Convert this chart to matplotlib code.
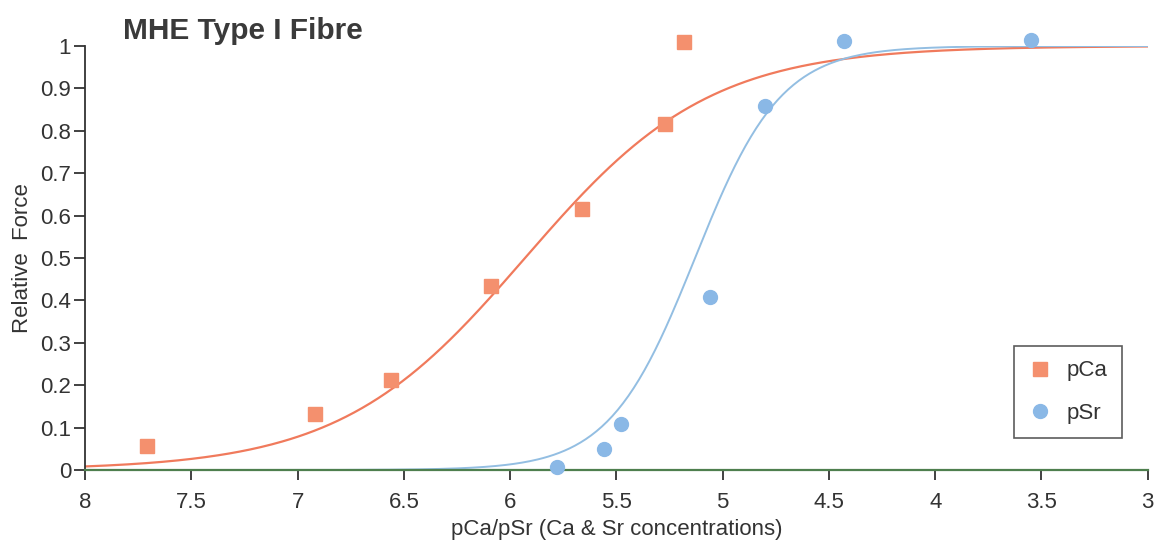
import numpy as np
import matplotlib
matplotlib.use("Agg")
import matplotlib.pyplot as plt

plt.rcParams['font.family'] = ['Liberation Sans', 'DejaVu Sans']

pca_x = [7.71, 6.92, 6.56, 6.09, 5.66, 5.27, 5.18]
pca_y = [0.057, 0.132, 0.212, 0.434, 0.616, 0.816, 1.01]

psr_x = [5.78, 5.56, 5.48, 5.06, 4.80, 4.43, 3.55]
psr_y = [0.007, 0.050, 0.108, 0.408, 0.858, 1.012, 1.014]

# Hill fit parameters (midpoint, Hill coefficient)
pca_fit = [5.93, 1.0]
psr_fit = [5.13, 2.15]

x_ticks = [8, 7.5, 7, 6.5, 6, 5.5, 5, 4.5, 4, 3.5, 3]
y_ticks = [0, 0.1, 0.2, 0.3, 0.4, 0.5, 0.6, 0.7, 0.8, 0.9, 1]

sq_col = '#F4906E'
ci_col = '#8AB8E6'
line_red = '#F07A5C'
line_blue = '#93BEE2'
axis_green = '#4E7F4E'


def hill(x, mid, n):
    return 1.0 / (1.0 + 10 ** (n * (x - mid)))


fig = plt.figure(figsize=(11.57, 5.43), dpi=100)
ax = fig.add_axes([0.0735, 0.1344, 0.9185, 0.7809])

xs = np.linspace(8, 3, 400)
ax.plot(xs, hill(xs, *pca_fit), color=line_red, lw=1.6, zorder=2)
ax.plot(xs, hill(xs, *psr_fit), color=line_blue, lw=1.4, zorder=2)

ax.plot(pca_x, pca_y, 's', color=sq_col, ms=10.5, mec=sq_col,
        label='pCa', clip_on=False, zorder=3)
ax.plot(psr_x, psr_y, 'o', color=ci_col, ms=10, mec=ci_col,
        label='pSr', clip_on=False, zorder=3)

ax.set_xlim(8, 3)
ax.set_ylim(0, 1)
ax.set_xticks(x_ticks)
ax.set_xticklabels(['8', '7.5', '7', '6.5', '6', '5.5', '5', '4.5', '4', '3.5', '3'])
ax.set_yticks(y_ticks)
ax.set_yticklabels(['0', '0.1', '0.2', '0.3', '0.4', '0.5', '0.6', '0.7', '0.8', '0.9', '1'])

for s in ['top', 'right']:
    ax.spines[s].set_visible(False)
ax.spines['left'].set_color('#333333')
ax.spines['left'].set_linewidth(1.3)
ax.spines['bottom'].set_color(axis_green)
ax.spines['bottom'].set_linewidth(1.6)

ax.tick_params(axis='y', direction='out', length=8, width=1.3, color='#333333',
               labelsize=16, labelcolor='#333333', pad=2)
ax.tick_params(axis='x', direction='out', length=7.5, width=1.3, color='#333333',
               labelsize=16, labelcolor='#333333', pad=8)

ax.set_xlabel('pCa/pSr (Ca & Sr concentrations)', fontsize=16, color='#333333', labelpad=5)
ax.set_ylabel('Relative  Force', fontsize=16, color='#333333', labelpad=5)

fig.text(0.106, 0.943, 'MHE Type I Fibre', fontsize=21.5, fontweight='bold',
         color='#3a3a3a', ha='left', va='center')

leg = ax.legend(loc='lower right', bbox_to_anchor=(0.9755, 0.0755),
                fontsize=16, frameon=True, fancybox=False, edgecolor='#333333',
                labelspacing=0.95, borderpad=0.65, handletextpad=0.7,
                handlelength=1.0, borderaxespad=0)
leg.get_frame().set_linewidth(1.2)
for t in leg.get_texts():
    t.set_color('#333333')

fig.savefig('out.png', dpi=100)
